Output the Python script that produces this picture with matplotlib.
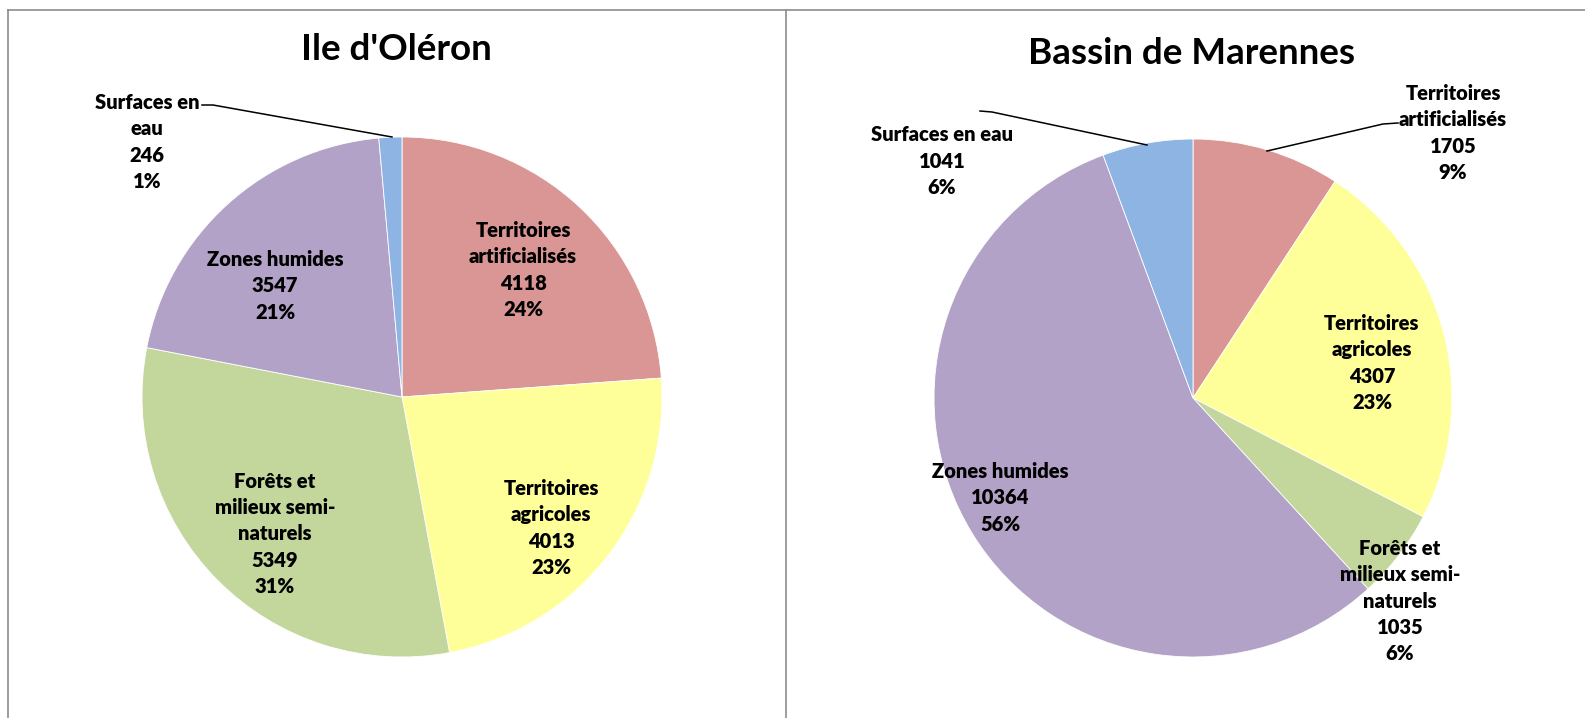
import matplotlib
matplotlib.use('Agg')
import matplotlib.pyplot as plt
from matplotlib.lines import Line2D

plt.rcParams['font.family'] = ['Lato', 'DejaVu Sans']

# data
categories = ['Territoires\nartificialisés', 'Territoires\nagricoles',
              'Forêts et\nmilieux semi-\nnaturels', 'Zones humides', 'Surfaces en\neau']
categories_right = ['Territoires\nartificialisés', 'Territoires\nagricoles',
                    'Forêts et\nmilieux semi-\nnaturels', 'Zones humides', 'Surfaces en eau']
oleron_values = [4118, 4013, 5349, 3547, 246]
marennes_values = [1705, 4307, 1035, 10364, 1041]
titles = ["Ile d'Oléron", 'Bassin de Marennes']
colors = ['#D99694', '#FFFF99', '#C3D69B', '#B3A2C7', '#8EB4E3']

W, H = 1585, 718

def fy(y):
    # pixel row (from top) -> data y (from bottom)
    return H - y

fig = plt.figure(figsize=(W / 100, H / 100), dpi=100, facecolor='white')
ax = fig.add_axes([0, 0, 1, 1])

# pie layout in pixels: center, radius, title pos, label positions, leader lines
charts = [
    dict(values=oleron_values, labels=categories, center=(402, 397), radius=260,
         title=titles[0], title_pos=(396, 50),
         label_pos=[(523, 270), (551, 528), (275, 534), (275, 286), (147, 142)],
         leaders=[[(202, 105), (213, 105), (392, 137)]]),
    dict(values=marennes_values, labels=categories_right, center=(1193, 398), radius=259,
         title=titles[1], title_pos=(1192, 54),
         label_pos=[(1453, 133), (1372, 363), (1400, 601), (1000, 498), (942, 161)],
         leaders=[[(1398, 123), (1383, 124), (1267, 151)],
                  [(980, 111), (992, 112), (1147, 145)]]),
]

for ch in charts:
    vals = ch['values']
    total = sum(vals)
    cx, cy = ch['center']
    ax.pie(vals, colors=colors, startangle=90, counterclock=False,
           center=(cx, fy(cy)), radius=ch['radius'],
           wedgeprops=dict(linewidth=0.6, edgecolor='white', antialiased=True))
    for lab, v, (lx, ly) in zip(ch['labels'], vals, ch['label_pos']):
        pct = round(100 * v / total)
        ax.text(lx, fy(ly), f'{lab}\n{v}\n{pct}%', ha='center', va='center',
                fontsize=14.5, fontweight='heavy', linespacing=1.45, color='black')
    for pts in ch['leaders']:
        xs = [p[0] for p in pts]
        ys = [fy(p[1]) for p in pts]
        ax.plot(xs, ys, color='black', lw=1.1)
    tx, ty = ch['title_pos']
    ax.text(tx, fy(ty), ch['title'], ha='center', va='center',
            fontsize=26.5, fontweight='bold', color='black')

ax.set_xlim(0, W)
ax.set_ylim(0, H)
ax.set_aspect('equal')
ax.axis('off')

# chart frames
frame_kw = dict(color='#8c8c8c', lw=1.2, transform=fig.transFigure)
fig.add_artist(Line2D([8 / W, 8 / W], [0, 1 - 10 / H], **frame_kw))
fig.add_artist(Line2D([8 / W, 1], [1 - 10 / H, 1 - 10 / H], **frame_kw))
fig.add_artist(Line2D([786 / W, 786 / W], [0, 1 - 10 / H], **frame_kw))

fig.savefig('out.png', dpi=100, facecolor='white')
